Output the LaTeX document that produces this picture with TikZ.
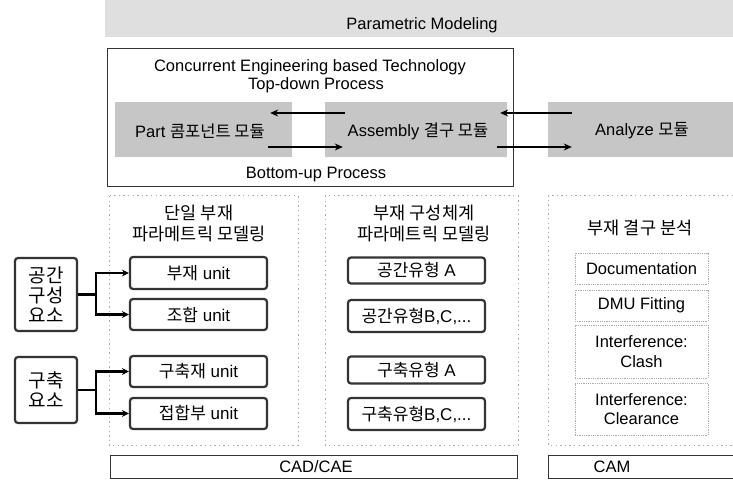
\documentclass[tikz,border=0pt]{standalone}
\usepackage{fontspec}
\setmainfont{Liberation Sans}
\newfontfamily\kr{Noto Sans CJK KR}
\usetikzlibrary{arrows.meta,calc}
\tikzset{
  band/.style={fill=gray!25, draw=none},
  module/.style={fill=gray!45, draw=none, minimum height=55pt, inner sep=0pt},
  unitbox/.style={draw=black!80, line width=2.2pt, rounded corners=3pt, fill=white, inner sep=0pt, font=\fontsize{17}{19}\selectfont},
  dotbox/.style={draw=gray!65, dash pattern=on 1.4pt off 3.2pt, line width=1pt},
  thinbox/.style={draw=gray!65, densely dotted, line width=0.8pt, inner sep=0pt, align=center, font=\fontsize{16.5}{19.5}\selectfont},
  frame/.style={draw=black!80, line width=0.8pt},
  txt/.style={inner sep=0pt, align=center},
  big/.style={font=\fontsize{16.5}{18}\selectfont},
  hdr/.style={font=\kr\fontsize{17.5}{21}\selectfont},
  arr/.style={-{Stealth[length=8pt,width=7pt]}, line width=1.1pt},
  conn/.style={-{Stealth[length=7pt,width=7pt]}, line width=2.6pt},
}
\begin{document}
\begin{tikzpicture}[x=1pt,y=-1pt]
\useasboundingbox (0,0) rectangle (733,486);
% top band
\fill[band] (105,0) rectangle (733,37);
\node[txt, big] (pm) at (422,25) {Parametric Modeling};
% big frame
\draw[frame] (107,48) rectangle (513,186);
\node[txt, big] (ce) at (310,67.5) {Concurrent Engineering based Technology};
\node[txt, big] (td) at (316,85.5) {Top-down Process};
\node[txt, big] (bu) at (316,175) {Bottom-up Process};
% modules
\node[module, minimum width=177pt] (part) at (203.5,129.5) {};
\node[module, minimum width=182pt] (asm) at (416,129.5) {};
\node[module, minimum width=185pt] (ana) at (640.5,129.5) {};
\node[txt, big] (partT) at (200,131) {Part {\kr 콤포넌트 모듈}};
\node[txt, big] (asmT) at (418,131) {Assembly {\kr 결구 모듈}};
\node[txt, big] (anaT) at (642,131) {Analyze {\kr 모듈}};
% module arrows
\draw[arr] ($(asm.west)+(20,-16.5)$) -- ($(part.east)+(-22,-16.5)$);
\draw[arr] ($(part.east)+(-24,17.5)$) -- ($(asm.west)+(18,17.5)$);
\draw[arr] ($(ana.west)+(24,-16.5)$) -- ($(asm.east)+(-7,-16.5)$);
\draw[arr] ($(asm.east)+(-10,17.5)$) -- ($(ana.west)+(24,17.5)$);
% dotted group boxes
\draw[dotbox] (109,196) rectangle (298,445);
\draw[dotbox] (325,196) rectangle (518,445);
\draw[dotbox] (733,196) -- (548,196) -- (548,445) -- (733,445);
% headers
\node[txt, hdr] (h1) at (199,223) {단일 부재\\파라메트릭 모델링};
\node[txt, hdr] (h2) at (424,223) {부재 구성체계\\파라메트릭 모델링};
\node[txt, hdr] (h3) at (640,228) {부재 결구 분석};
% left boxes
\node[unitbox, minimum width=62pt, minimum height=73pt, align=center, font=\kr\fontsize{19}{20}\selectfont] (g1) at (46,294.5) {공간\\구성\\요소};
\node[unitbox, minimum width=62pt, minimum height=66pt, align=center, font=\kr\fontsize{19}{20}\selectfont] (g2) at (46,390) {구축\\요소};
% unit boxes
\node[unitbox, minimum width=137pt, minimum height=32pt] (u1) at (198.5,273) {{\kr 부재} unit};
\node[unitbox, minimum width=137pt, minimum height=31pt] (u2) at (198.5,314.5) {{\kr 조합} unit};
\node[unitbox, minimum width=137pt, minimum height=31pt] (u3) at (198.5,371.5) {{\kr 구축재} unit};
\node[unitbox, minimum width=137pt, minimum height=31pt] (u4) at (198.5,413.5) {{\kr 접합부} unit};
% connectors
\draw[conn] (g1.east) -- ++(18,0) |- (u1.west);
\draw[conn] (g1.east) -- ++(18,0) |- (u2.west);
\draw[conn] (g2.east) -- ++(18,0) |- (u3.west);
\draw[conn] (g2.east) -- ++(18,0) |- (u4.west);
% middle boxes
\node[unitbox, minimum width=137pt, minimum height=26pt] (m1) at (416.5,270.5) {{\kr 공간유형} A};
\node[unitbox, minimum width=137pt, minimum height=32pt] (m2) at (416.5,316) {{\kr 공간유형}B,C,...};
\node[unitbox, minimum width=137pt, minimum height=27pt] (m3) at (416.5,370) {{\kr 구축유형} A};
\node[unitbox, minimum width=137pt, minimum height=32pt] (m4) at (416.5,414) {{\kr 구축유형}B,C,...};
% right boxes
\node[thinbox, minimum width=133pt, minimum height=31pt] (r1) at (641.5,268.5) {Documentation};
\node[thinbox, minimum width=133pt, minimum height=31pt] (r2) at (641.5,305.5) {DMU Fitting};
\node[thinbox, minimum width=133pt, minimum height=53pt] (r3) at (641.5,351.5) {Interference:\\Clash};
\node[thinbox, minimum width=133pt, minimum height=52pt] (r4) at (641.5,409) {Interference:\\Clearance};
% bottom boxes
\draw[frame] (110,455) rectangle (517,478);
\node[txt, big] (cad) at (316,466.5) {CAD/CAE};
\draw[frame] (733,455) -- (548,455) -- (548,478) -- (733,478);
\node[txt, big] (cam) at (612,466.5) {CAM};
\end{tikzpicture}
\end{document}
